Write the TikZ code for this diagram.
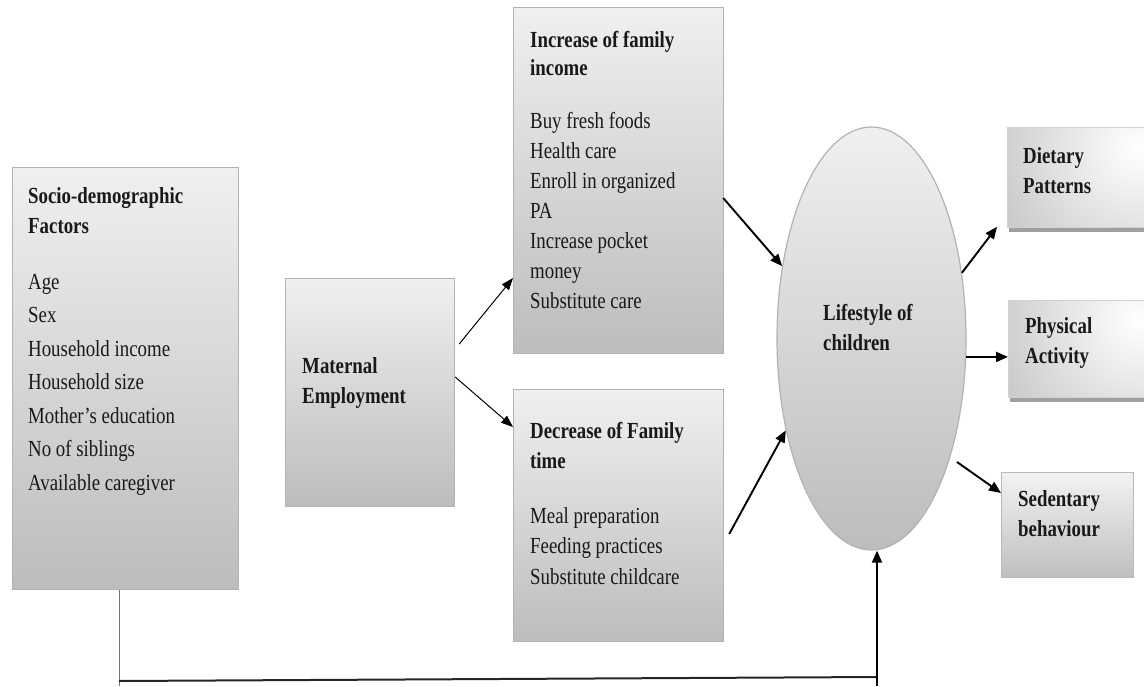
\documentclass[tikz,border=0pt]{standalone}
\usepackage{fontspec}
\setmainfont{Liberation Serif}[FakeStretch=0.82]
\usetikzlibrary{arrows.meta,calc,shapes.geometric,shadows}
\newcommand\boxfont{\fontsize{23}{30}\selectfont}
\begin{document}
\begin{tikzpicture}[x=1pt,y=-1pt,
  box/.style={draw=gray!60, line width=1.2pt, top color=gray!12, bottom color=gray!52,
    inner sep=0pt, anchor=north west},
  rbox/.style={draw=gray!35, line width=0.8pt, inner sep=0pt, anchor=north west,
    fill=gray!42,
    path picture={\shade[inner color=white, outer color=gray!42]
      ([xshift=-20pt,yshift=-20pt]path picture bounding box.north east) circle (150pt);},
    drop shadow={shadow xshift=2pt, shadow yshift=-5pt, fill=gray!75, opacity=1}},
  sbox/.style={draw=gray!55, line width=1.2pt, top color=gray!10, bottom color=gray!50,
    inner sep=0pt, anchor=north west},
  ell/.style={ellipse, draw=gray!60, line width=1.2pt, top color=gray!12, bottom color=gray!52,
    inner sep=0pt, minimum width=189pt, minimum height=423pt},
  txt/.style={anchor=north west, align=left, inner sep=0pt, font=\boxfont, text=black!90},
  arr/.style={line width=1pt, -{Triangle[length=12pt,width=9pt]}},
  arrb/.style={line width=1.9pt, -{Triangle[length=12pt,width=10pt]}},
]
\useasboundingbox (0,0) rectangle (1144,686);

% boxes
\node[box, minimum width=226pt, minimum height=422pt] (socio) at (12,167) {};
\node[box, minimum width=169pt, minimum height=228pt] (mat) at (285,278) {};
\node[box, minimum width=210pt, minimum height=346pt] (inc) at (513,7) {};
\node[box, minimum width=210pt, minimum height=252pt] (dec) at (513,389) {};
\node[ell] (life) at (871.5,338.5) {};
\node[rbox, minimum width=150pt, minimum height=100pt] (diet) at (1007,127) {};
\node[rbox, minimum width=150pt, minimum height=97pt] (phys) at (1008,300) {};
\node[sbox, minimum width=132pt, minimum height=105pt] (sed) at (1001,472) {};

% texts
\node[txt] (socioT) at (28,187) {\textbf{Socio-demographic}\\ \textbf{Factors}\\[26pt]
  Age\\[3.5pt] Sex\\[3.5pt] Household income\\[3.5pt] Household size\\[3.5pt]
  Mother's education\\[3.5pt] No of siblings\\[3.5pt] Available caregiver};
\node[txt] (matT) at (302,357) {\textbf{Maternal}\\ \textbf{Employment}};
\node[txt] (incT) at (530,31) {\textbf{Increase of family}\\[-2pt] \textbf{income}\\[23pt]
  Buy fresh foods\\ Health care\\ Enroll in organized\\ PA\\ Increase pocket\\ money\\
  Substitute care};
\node[txt] (decT) at (530,422) {\textbf{Decrease of Family}\\ \textbf{time}\\[25pt]
  Meal preparation\\[0.5pt] Feeding practices\\[0.5pt] Substitute childcare};
\node[txt] (lifeT) at (823,304) {\textbf{Lifestyle of}\\ \textbf{children}};
\node[txt] (dietT) at (1023,147) {\textbf{Dietary}\\ \textbf{Patterns}};
\node[txt] (physT) at (1025,317) {\textbf{Physical}\\ \textbf{Activity}};
\node[txt] (sedT) at (1018,490) {\textbf{Sedentary}\\ \textbf{behaviour}};

% connectors
\draw[arr] ($(mat.north east)+(4,66)$) -- (inc.west |- mat.north);
\draw[arr] ($(mat.north east)+(0,99)$) -- ($(dec.north west)+(0,38)$);
\draw[arrb] ($(inc.north east)+(-1,191)$) -- (life.141);
\draw[arrb] ($(dec.north east)+(5,145)$) -- (life.227);
\draw[arrb] (life.36) -- ($(diet.south west)+(-10,-1)$);
\draw[arrb] (life.-11) -- (life.-11 -| phys.west);
\draw[arrb] ($(life.center)+(85.5,123.5)$) -- ($(sed.north west)+(0,21)$);

% feedback from socio-demographic factors
\coordinate (bl) at (119,686);
\coordinate (br) at (877,686);
\draw[line width=1pt, gray!90!black] (socio.south -| bl) -- (bl);
\draw[line width=2pt, black!85] (bl |- 0,681) -- (br |- 0,677);
\draw[arrb] (br) -- (br |- life.south);
\end{tikzpicture}
\end{document}
